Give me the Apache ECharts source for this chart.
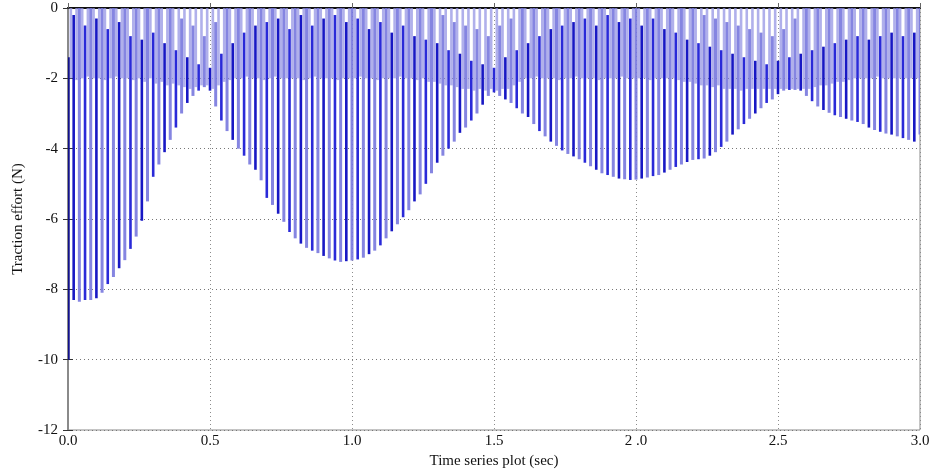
<!DOCTYPE html>
<html>
<head>
<meta charset="utf-8">
<script src="https://cdn.jsdelivr.net/npm/echarts@6/dist/echarts.min.js"></script>
<style>html,body{margin:0;padding:0;background:#fff}#c{width:935px;height:474px}</style>
</head>
<body>
<div id="c"></div>
<script>
// sampling step of the plotted oscillation strokes (sec)
const sampleStep = 0.02;
// lower turning value of each main oscillation stroke (N)
const lowValues = [
 -10.0,-8.3,-8.35,-8.3,-8.3,-8.25,-8.1,-7.85,-7.65,-7.4,
 -7.17,-6.85,-6.5,-6.05,-5.5,-4.8,-4.45,-4.1,-3.75,-3.4,
 -3.0,-2.7,-2.5,-2.35,-2.25,-2.35,-2.8,-3.2,-3.5,-3.75,
 -4.0,-4.2,-4.45,-4.6,-4.9,-5.4,-5.6,-5.85,-6.08,-6.37,
 -6.55,-6.7,-6.82,-6.9,-6.97,-7.05,-7.12,-7.18,-7.22,-7.2,
 -7.18,-7.15,-7.1,-7.0,-6.9,-6.75,-6.55,-6.35,-6.15,-5.95,
 -5.75,-5.5,-5.3,-5.0,-4.7,-4.4,-4.2,-4.0,-3.8,-3.55,
 -3.4,-3.2,-3.0,-2.75,-2.5,-2.4,-2.5,-2.6,-2.7,-2.85,
 -3.0,-3.1,-3.3,-3.5,-3.65,-3.8,-3.92,-4.05,-4.15,-4.22,
 -4.3,-4.4,-4.5,-4.6,-4.7,-4.75,-4.8,-4.85,-4.87,-4.89,
 -4.88,-4.85,-4.82,-4.78,-4.75,-4.68,-4.6,-4.52,-4.45,-4.38,
 -4.32,-4.3,-4.28,-4.2,-4.1,-3.95,-3.8,-3.6,-3.45,-3.3,
 -3.15,-3.0,-2.85,-2.7,-2.6,-2.45,-2.35,-2.33,-2.33,-2.35,
 -2.5,-2.65,-2.8,-2.9,-2.98,-3.05,-3.1,-3.15,-3.2,-3.24,
 -3.3,-3.4,-3.47,-3.52,-3.57,-3.6,-3.65,-3.7,-3.75,-3.8,
 -3.6
];
// upper turning value of each main oscillation stroke (N)
const upperValues = [
 -1.4,-0.2,0,-0.5,0,-0.3,0,-0.6,0,-0.4,
 0,-0.8,0,-0.9,0,-0.7,0,-1.0,0,-1.2,
 -0.3,-1.4,-0.5,-1.6,-0.8,-1.7,-0.4,-1.3,0,-1.0,
 0,-0.7,0,-0.5,0,-0.4,0,-0.3,0,-0.6,
 0,-0.2,0,-0.5,0,-0.3,0,-0.2,0,-0.4,
 0,-0.3,0,-0.6,0,-0.4,0,-0.7,0,-0.5,
 0,-0.8,0,-0.9,0,-1.0,-0.2,-1.2,-0.4,-1.3,
 -0.5,-1.5,-0.6,-1.6,-0.8,-1.7,-0.5,-1.4,-0.3,-1.2,
 0,-1.0,0,-0.8,0,-0.6,0,-0.5,0,-0.4,
 0,-0.3,0,-0.5,0,-0.2,0,-0.4,0,-0.3,
 0,-0.5,0,-0.3,0,-0.6,0,-0.7,0,-0.9,
 0,-1.0,-0.2,-1.1,-0.3,-1.2,-0.4,-1.3,-0.5,-1.4,
 -0.6,-1.5,-0.7,-1.6,-0.8,-1.5,-0.6,-1.4,-0.3,-1.3,
 0,-1.2,0,-1.1,0,-1.0,0,-0.9,0,-0.8,
 0,-0.9,0,-0.8,0,-0.7,0,-0.8,0,-0.7,
 0
];
// lower turning value of the short in-between strokes near the top (N)
const midValues = [
 -2.0,-2.05,-2.0,-1.95,-2.0,-2.0,-2.05,-2.0,-1.95,-2.0,
 -2.0,-2.05,-2.0,-2.1,-2.0,-2.15,-2.1,-2.2,-2.15,-2.2,
 -2.25,-2.3,-2.25,-2.2,-2.2,-2.3,-2.2,-2.1,-2.05,-2.0,
 -2.0,-1.95,-2.0,-2.0,-2.05,-2.0,-1.95,-2.0,-2.0,-2.0,
 -2.0,-2.05,-2.0,-1.95,-2.0,-2.0,-2.0,-2.05,-2.0,-2.0,
 -2.0,-1.95,-2.0,-2.0,-2.05,-2.0,-2.0,-2.0,-1.95,-2.0,
 -2.0,-2.05,-2.0,-2.1,-2.1,-2.15,-2.2,-2.2,-2.25,-2.3,
 -2.3,-2.35,-2.3,-2.35,-2.3,-2.35,-2.3,-2.3,-2.2,-2.1,
 -2.0,-2.0,-1.95,-2.0,-2.0,-2.0,-2.05,-2.0,-2.0,-1.95,
 -2.0,-2.0,-2.0,-2.05,-2.0,-2.0,-2.0,-1.95,-2.0,-2.0,
 -2.0,-2.0,-2.05,-2.0,-2.0,-2.0,-2.0,-2.05,-2.1,-2.1,
 -2.15,-2.2,-2.2,-2.25,-2.2,-2.3,-2.3,-2.3,-2.35,-2.3,
 -2.3,-2.3,-2.3,-2.3,-2.3,-2.3,-2.3,-2.3,-2.3,-2.3,
 -2.3,-2.25,-2.2,-2.2,-2.15,-2.1,-2.1,-2.05,-2.0,-2.0,
 -2.0,-2.0,-1.95,-2.0,-2.0,-2.0,-2.0,-2.0,-2.0,-2.0
];
const xTickLabels = ['0.0','0.5','1.0','1.5','2 .0','2.5','3.0'];
const yTickLabels = ['-12','-10','-8','-6','-4','-2','0'];

// main strokes: [time, upper, lower, index, kind]
const mainStrokes = lowValues.map((lo, i) => [+(i * sampleStep).toFixed(4), upperValues[i], lo, i, 0]);
// in-between strokes, half a step later
const midStrokes = midValues.map((lo, i) => [+((i + 0.5) * sampleStep).toFixed(4), 0, lo, i, 1]);

const font = 'Liberation Serif';
const chart = echarts.init(document.getElementById('c'));

function strokeItem(params, api) {
  const t = api.value(0), up = api.value(1), lo = api.value(2), idx = api.value(3), kind = api.value(4);
  const p1 = api.coord([t, up]);
  const p2 = api.coord([t, lo]);
  let color, w;
  if (kind === 1) { color = 'rgba(150,150,228,0.75)'; w = 2.6; }
  else if (idx === 0) { color = '#10108a'; w = 3.5; }
  else if (idx % 2 === 0) { color = 'rgba(120,120,222,0.9)'; w = 3; }
  else if (idx % 4 === 1) { color = '#1818c4'; w = 2.6; }
  else { color = '#2a2ad8'; w = 2.6; }
  return { type: 'line', shape: { x1: p1[0], y1: p1[1], x2: p2[0], y2: p2[1] },
    style: { stroke: color, lineWidth: w } };
}

chart.setOption({
  animation: false,
  backgroundColor: '#fff',
  grid: { left: 68, right: 15, top: 8, bottom: 44, show: true, borderColor: '#8a8a8a', borderWidth: 1 },
  xAxis: [{
    type: 'value', min: 0, max: 3, interval: 0.5,
    name: 'Time series plot (sec)', nameLocation: 'middle', nameGap: 24,
    nameTextStyle: { fontFamily: font, fontSize: 15, color: '#111' },
    axisLine: { show: true, lineStyle: { color: '#8a8a8a', width: 1.5 } },
    axisTick: { show: true, inside: true, length: 5, lineStyle: { color: '#666' } },
    axisLabel: { fontFamily: font, fontSize: 15, color: '#111', margin: 4,
      formatter: (v) => xTickLabels[Math.round(v / 0.5)] },
    splitLine: { show: true, lineStyle: { color: '#8c8c8c', type: [1, 3], width: 1 } }
  }, {
    type: 'value', min: 0, max: 3, position: 'top',
    axisLine: { show: true, lineStyle: { color: '#111', width: 2 } },
    axisTick: { show: false }, axisLabel: { show: false }, splitLine: { show: false }
  }],
  yAxis: [{
    type: 'value', min: -12, max: 0, interval: 2,
    name: 'Traction effort (N)', nameLocation: 'middle', nameGap: 42,
    nameTextStyle: { fontFamily: font, fontSize: 15, color: '#111' },
    axisLine: { show: true, lineStyle: { color: '#8a8a8a', width: 1.5 } },
    axisTick: { show: true, inside: true, length: 5, lineStyle: { color: '#333' } },
    axisLabel: { fontFamily: font, fontSize: 15, color: '#111', margin: 10,
      formatter: (v) => yTickLabels[Math.round((v + 12) / 2)] },
    splitLine: { show: true, lineStyle: { color: '#777', type: [1, 3], width: 1 } }
  }, {
    type: 'value', min: -12, max: 0, interval: 2, position: 'right',
    axisLine: { show: true, lineStyle: { color: '#8a8a8a', width: 2 } },
    axisTick: { show: true, inside: true, length: 5, lineStyle: { color: '#333' } },
    axisLabel: { show: false }, splitLine: { show: false }
  }],
  series: [{
    type: 'custom', clip: true, data: midStrokes,
    encode: { x: 0, y: [1, 2] }, renderItem: strokeItem, z: 2
  }, {
    type: 'custom', clip: true, data: mainStrokes,
    encode: { x: 0, y: [1, 2] }, renderItem: strokeItem, z: 3
  }]
});
</script>
</body>
</html>
